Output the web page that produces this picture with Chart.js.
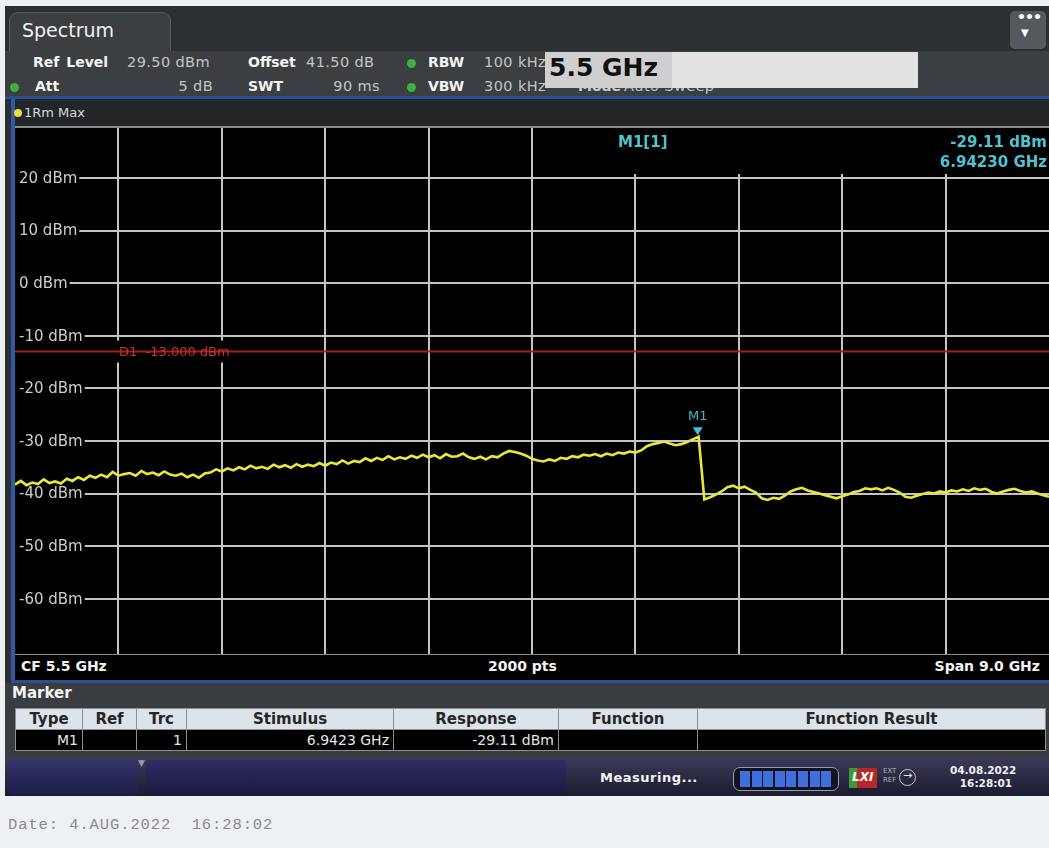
<!DOCTYPE html>
<html>
<head>
<meta charset="utf-8">
<script src="https://cdn.jsdelivr.net/npm/chart.js@4/dist/chart.umd.min.js"></script>
<style>
html,body{margin:0;padding:0;width:1049px;height:848px;overflow:hidden;background:#edf1f4;font-family:"DejaVu Sans",sans-serif;}
.a{position:absolute;white-space:nowrap;}
.lbl{font-weight:bold;font-size:14px;color:#f4f4f4;}
.val{font-size:14.5px;color:#c4c4c4;letter-spacing:0.4px;}
.dot{position:absolute;width:9px;height:9px;border-radius:50%;background:#3cb043;}
table{border-collapse:collapse;table-layout:fixed;}
td{border:1px solid #8a8f96;padding:0 4px;height:20px;overflow:hidden;}
.hd td{background:#dde3ea;color:#262626;font-weight:bold;font-size:15px;text-align:center;}
.rw td{background:#000;color:#e6e6e6;font-size:14px;text-align:right;}
.seg{display:inline-block;width:10px;height:16px;margin-right:1.6px;background:#3f6fdc;}
</style>
</head>
<body>
<!-- instrument screen -->
<div class="a" style="left:5px;top:6px;width:1044px;height:790px;background:#2d3033;"></div>
<div class="a" style="left:9px;top:12px;width:160px;height:40px;background:#3c3f42;border:1px solid #55595d;border-bottom:none;border-radius:9px 9px 0 0;"></div>
<div class="a" style="left:22px;top:19px;font-size:19px;color:#f2f2f2;">Spectrum</div>
<div class="a" style="left:5px;top:51px;width:1044px;height:46px;background:#3c3f42;"></div>
<div class="a" style="left:1010px;top:11px;width:36px;height:38px;background:#55585c;border-radius:5px;"></div>
<div class="a" style="left:1017px;top:9px;font-size:14px;color:#fff;font-weight:bold;letter-spacing:-1px;">•••</div>
<div class="a" style="left:1021px;top:27px;font-size:10px;color:#fff;">▼</div>

<!-- info rows -->
<div class="a lbl" style="left:33px;top:54px;word-spacing:2px;">Ref Level</div>
<div class="a val" style="left:127px;top:54px;">29.50 dBm</div>
<div class="a lbl" style="left:248px;top:54px;">Offset</div>
<div class="a val" style="left:306px;top:54px;">41.50 dB</div>
<div class="dot" style="left:407px;top:59px;"></div>
<div class="a lbl" style="left:428px;top:54px;">RBW</div>
<div class="a val" style="left:484px;top:54px;">100 kHz</div>
<div class="dot" style="left:10px;top:83px;"></div>
<div class="a lbl" style="left:35px;top:78px;">Att</div>
<div class="a val" style="left:173px;top:78px;width:40px;text-align:right;">5 dB</div>
<div class="a lbl" style="left:248px;top:78px;">SWT</div>
<div class="a val" style="left:320px;top:78px;width:60px;text-align:right;">90 ms</div>
<div class="dot" style="left:407px;top:83px;"></div>
<div class="a lbl" style="left:428px;top:78px;">VBW</div>
<div class="a val" style="left:484px;top:78px;">300 kHz</div>
<div class="a lbl" style="left:578px;top:78px;color:#cfcfcf;">Mode</div>
<div class="a val" style="left:624px;top:78px;">Auto Sweep</div>
<!-- entry box -->
<div class="a" style="left:545px;top:52px;width:373px;height:36px;background:#e2e2e2;"></div>
<div class="a" style="left:545px;top:52px;width:127px;height:36px;background:#cfcfcf;"></div>
<div class="a" style="left:549px;top:53px;font-size:25px;font-weight:bold;color:#111;">5.5 GHz</div>

<div class="a" style="left:5px;top:96px;width:1044px;height:3px;background:#2c4f94;"></div>
<!-- trace window -->
<div class="a" style="left:11px;top:99px;width:4px;height:583px;background:#2e5aa8;"></div>
<div class="a" style="left:15px;top:99px;width:1034px;height:27px;background:#232629;"></div>
<div class="a" style="left:14px;top:109px;width:8px;height:8px;border-radius:50%;background:#e8e030;"></div>
<div class="a" style="left:24px;top:105px;font-size:13px;color:#d8d8d8;">1Rm Max</div>
<div class="a" style="left:15px;top:126px;width:1034px;height:2px;background:#8a8a8a;"></div>
<div class="a" style="left:15px;top:128px;width:1034px;height:526px;background:#000;">
  <canvas id="c" width="1034" height="526" style="display:block;width:1034px;height:526px;"></canvas>
</div>
<div class="a" style="left:15px;top:654px;width:1034px;height:1px;background:#8a8a8a;"></div>
<div class="a" style="left:15px;top:655px;width:1034px;height:25px;background:#000;"></div>
<div class="a" style="left:21px;top:658px;font-size:14px;font-weight:bold;color:#f2f2f2;">CF 5.5 GHz</div>
<div class="a" style="left:488px;top:658px;font-size:14px;font-weight:bold;color:#f2f2f2;">2000 pts</div>
<div class="a" style="left:900px;top:658px;width:140px;text-align:right;font-size:14px;font-weight:bold;color:#f2f2f2;">Span 9.0 GHz</div>
<div class="a" style="left:11px;top:680px;width:1038px;height:3px;background:#2c4f94;"></div>

<!-- marker table -->
<div class="a" style="left:5px;top:683px;width:1044px;height:74px;background:#3a3d40;"></div>
<div class="a" style="left:12px;top:684px;font-size:15px;font-weight:bold;color:#f4f4f4;">Marker</div>
<table class="a" style="left:15px;top:708px;width:1030px;">
  <colgroup><col style="width:67px"><col style="width:54px"><col style="width:50px"><col style="width:207px"><col style="width:165px"><col style="width:139px"><col style="width:348px"></colgroup>
  <tr class="hd"><td>Type</td><td>Ref</td><td>Trc</td><td>Stimulus</td><td>Response</td><td>Function</td><td>Function Result</td></tr>
  <tr class="rw"><td>M1</td><td></td><td>1</td><td>6.9423 GHz</td><td>-29.11 dBm</td><td></td><td></td></tr>
</table>

<!-- status bar -->
<div class="a" style="left:5px;top:757px;width:1044px;height:39px;background:linear-gradient(#3c3c58,#1a1a30);"></div>
<div class="a" style="left:8px;top:760px;width:130px;height:35px;background:linear-gradient(#34346c,#1c1c46);border-radius:6px;"></div>
<div class="a" style="left:146px;top:760px;width:420px;height:35px;background:linear-gradient(#2e2e62,#1a1a40);border-radius:4px;"></div>
<div class="a" style="left:138px;top:758px;font-size:9px;color:#9a9ab0;">▼</div>
<div class="a" style="left:600px;top:770px;font-size:13px;font-weight:bold;color:#f4f4f4;letter-spacing:0.5px;">Measuring...</div>
<div class="a" style="left:733px;top:767px;width:104px;height:22px;border:1px solid #9a9aa8;border-radius:7px;background:#121220;"></div>
<div class="a" style="left:740px;top:771px;font-size:0;"><span class="seg"></span><span class="seg"></span><span class="seg"></span><span class="seg"></span><span class="seg"></span><span class="seg"></span><span class="seg"></span><span class="seg"></span></div>
<div class="a" style="left:849px;top:768px;width:28px;height:20px;background:linear-gradient(90deg,#3a9a3a 0 30%,#b8282a 30% 100%);"></div>
<div class="a" style="left:852px;top:770px;font-size:12px;font-weight:bold;font-style:italic;color:#fff;">LXI</div>
<div class="a" style="left:883px;top:767px;font-size:7px;color:#b0b0c0;line-height:9px;">EXT<br>REF</div>
<div class="a" style="left:899px;top:769px;width:15px;height:15px;border:1.5px solid #c8c8d0;border-radius:50%;"></div>
<div class="a" style="left:903px;top:769px;font-size:11px;color:#e0e0e8;">→</div>
<div class="a" style="left:950px;top:764px;width:62px;text-align:right;font-size:10.5px;font-weight:bold;color:#f0f0f0;line-height:13px;">04.08.2022<br>16:28:01</div>

<div class="a" style="left:8px;top:816px;font-family:'Liberation Mono',monospace;font-size:15.5px;color:#8a8a8a;letter-spacing:0.9px;white-space:pre;">Date: 4.AUG.2022  16:28:02</div>

<script>
// ---- data ----
const freqStartGHz = 1.0;     // CF 5.5 GHz, span 9.0 GHz
const freqStepGHz = 0.05;
const traceDbm = [
  -38.3,-37.6,-38.4,-37.9,-38.2,-37.3,-38.0,-37.7,-38.1,-37.2,
  -37.6,-36.9,-37.4,-36.6,-37.0,-36.4,-36.9,-35.9,-36.6,-36.3,
  -36.1,-36.6,-35.7,-36.3,-36.0,-36.5,-35.8,-36.4,-36.6,-36.2,
  -36.9,-36.4,-37.0,-36.2,-36.0,-35.4,-35.8,-35.2,-35.6,-35.0,
  -35.4,-34.7,-35.2,-34.9,-35.3,-34.5,-35.0,-34.6,-35.1,-34.4,
  -34.9,-34.5,-34.8,-34.2,-34.7,-34.1,-34.4,-33.7,-34.3,-33.8,
  -34.0,-33.3,-33.8,-33.2,-33.6,-32.9,-33.5,-33.1,-33.4,-32.8,
  -33.2,-32.6,-33.1,-32.7,-33.3,-32.5,-33.0,-32.9,-32.4,-33.1,
  -33.4,-33.0,-33.5,-32.9,-33.1,-32.4,-31.9,-32.1,-32.4,-32.8,
  -33.4,-33.7,-33.9,-33.5,-33.8,-33.2,-33.4,-32.9,-33.1,-32.6,
  -32.8,-32.5,-32.9,-32.4,-32.7,-32.2,-32.4,-32.0,-32.2,-31.8,
  -31.0,-30.6,-30.4,-30.1,-30.5,-30.8,-30.6,-30.2,-29.7,-29.2,
  -41.1,-40.7,-40.2,-39.6,-38.8,-38.5,-39.0,-38.7,-39.3,-39.8,
  -40.9,-41.2,-40.8,-41.0,-40.4,-39.6,-39.2,-38.9,-39.4,-39.7,
  -40.0,-40.3,-40.6,-40.9,-40.5,-40.2,-39.7,-39.5,-39.0,-39.2,
  -39.0,-39.4,-38.9,-39.3,-39.8,-40.6,-40.8,-40.4,-40.1,-39.8,
  -40.0,-39.6,-39.8,-39.4,-39.6,-39.2,-39.5,-39.0,-39.3,-39.1,
  -39.7,-40.0,-39.6,-39.3,-39.1,-39.5,-39.8,-39.6,-40.0,-40.3,
  -40.6
];
const xRangeGHz = [1.0, 10.0];
const xGridGHz = [1.9, 2.8, 3.7, 4.6, 5.5, 6.4, 7.3, 8.2, 9.1];
const yRangeDbm = [-70.5, 29.5];
const yTickValues = [20, 10, 0, -10, -20, -30, -40, -50, -60];
const yTickLabels = ['20 dBm','10 dBm','0 dBm','-10 dBm','-20 dBm','-30 dBm','-40 dBm','-50 dBm','-60 dBm'];
const markerFreqGHz = [6.9423];
const markerLevelDbm = [-29.11];
const markerTexts = ['M1[1]', '-29.11 dBm', '6.94230 GHz'];
const limitLevelDbm = [-13.0];
const limitLabel = 'D1  -13.000 dBm';

const tracePoints = traceDbm.map((v, i) => ({ x: freqStartGHz + i * freqStepGHz, y: v }));
const limitPoints = [{ x: xRangeGHz[0], y: limitLevelDbm[0] }, { x: xRangeGHz[1], y: limitLevelDbm[0] }];

const overlay = {
  id: 'overlay',
  beforeDatasetsDraw(chart) {
    const { ctx, chartArea: a, scales: { x, y } } = chart;
    ctx.save();
    ctx.fillStyle = '#000';
    ctx.fillRect(545, a.top, a.right - 545, 46);
    ctx.font = '15px "DejaVu Sans"';
    ctx.textBaseline = 'middle';
    yTickValues.forEach((v, i) => {
      const py = y.getPixelForValue(v);
      const w = ctx.measureText(yTickLabels[i]).width;
      ctx.fillStyle = '#000';
      ctx.fillRect(a.left, py - 8, 4 + w + 2, 16);
      ctx.fillStyle = '#cdcdcd';
      ctx.fillText(yTickLabels[i], a.left + 4, py + 1);
    });
    const ly = y.getPixelForValue(limitLevelDbm[0]);
    ctx.fillStyle = '#000';
    ctx.fillRect(100, ly - 11, 148, 22);
    ctx.restore();
  },
  afterDatasetsDraw(chart) {
    const { ctx, chartArea: a, scales: { x, y } } = chart;
    ctx.save();
    const ly = y.getPixelForValue(limitLevelDbm[0]);
    ctx.font = '13px "DejaVu Sans"';
    ctx.textBaseline = 'middle';
    ctx.fillStyle = '#d03030';
    ctx.fillText(limitLabel, 104, ly + 1);
    const px = x.getPixelForValue(markerFreqGHz[0]);
    const py = y.getPixelForValue(markerLevelDbm[0]);
    ctx.fillStyle = '#3cc4dc';
    ctx.beginPath();
    ctx.moveTo(px - 5, py - 9);
    ctx.lineTo(px + 5, py - 9);
    ctx.lineTo(px, py - 1);
    ctx.closePath();
    ctx.fill();
    ctx.font = '13px "DejaVu Sans"';
    ctx.textAlign = 'center';
    ctx.fillStyle = '#44b8c8';
    ctx.fillText('M1', px, py - 20);
    ctx.font = 'bold 15px "DejaVu Sans"';
    ctx.fillStyle = '#4cc4d4';
    ctx.textAlign = 'left';
    ctx.fillText(markerTexts[0], 603, 15);
    ctx.textAlign = 'right';
    ctx.fillText(markerTexts[1], a.right - 2, 15);
    ctx.fillText(markerTexts[2], a.right - 2, 35);
    ctx.restore();
  }
};

new Chart(document.getElementById('c'), {
  type: 'line',
  data: {
    datasets: [
      { data: limitPoints, borderColor: '#a81e1e', borderWidth: 2, pointRadius: 0, tension: 0 },
      { data: tracePoints, borderColor: '#e8e83a', borderWidth: 2.6, pointRadius: 0, tension: 0 }
    ]
  },
  options: {
    responsive: false,
    animation: false,
    events: [],
    devicePixelRatio: 1,
    layout: { padding: 0 },
    plugins: { legend: { display: false }, tooltip: { enabled: false } },
    scales: {
      x: {
        type: 'linear', min: xRangeGHz[0], max: xRangeGHz[1],
        afterFit(s) { s.height = 0; },
        afterBuildTicks(s) { s.ticks = xGridGHz.map(v => ({ value: v })); },
        ticks: { display: false },
        grid: { color: '#c4c4c4', lineWidth: 2, drawTicks: false },
        border: { display: false }
      },
      y: {
        type: 'linear', min: yRangeDbm[0], max: yRangeDbm[1],
        afterFit(s) { s.width = 0; },
        afterBuildTicks(s) { s.ticks = yTickValues.map(v => ({ value: v })); },
        ticks: { display: false },
        grid: { color: '#c4c4c4', lineWidth: 2, drawTicks: false },
        border: { display: false }
      }
    }
  },
  plugins: [overlay]
});
</script>
</body>
</html>
